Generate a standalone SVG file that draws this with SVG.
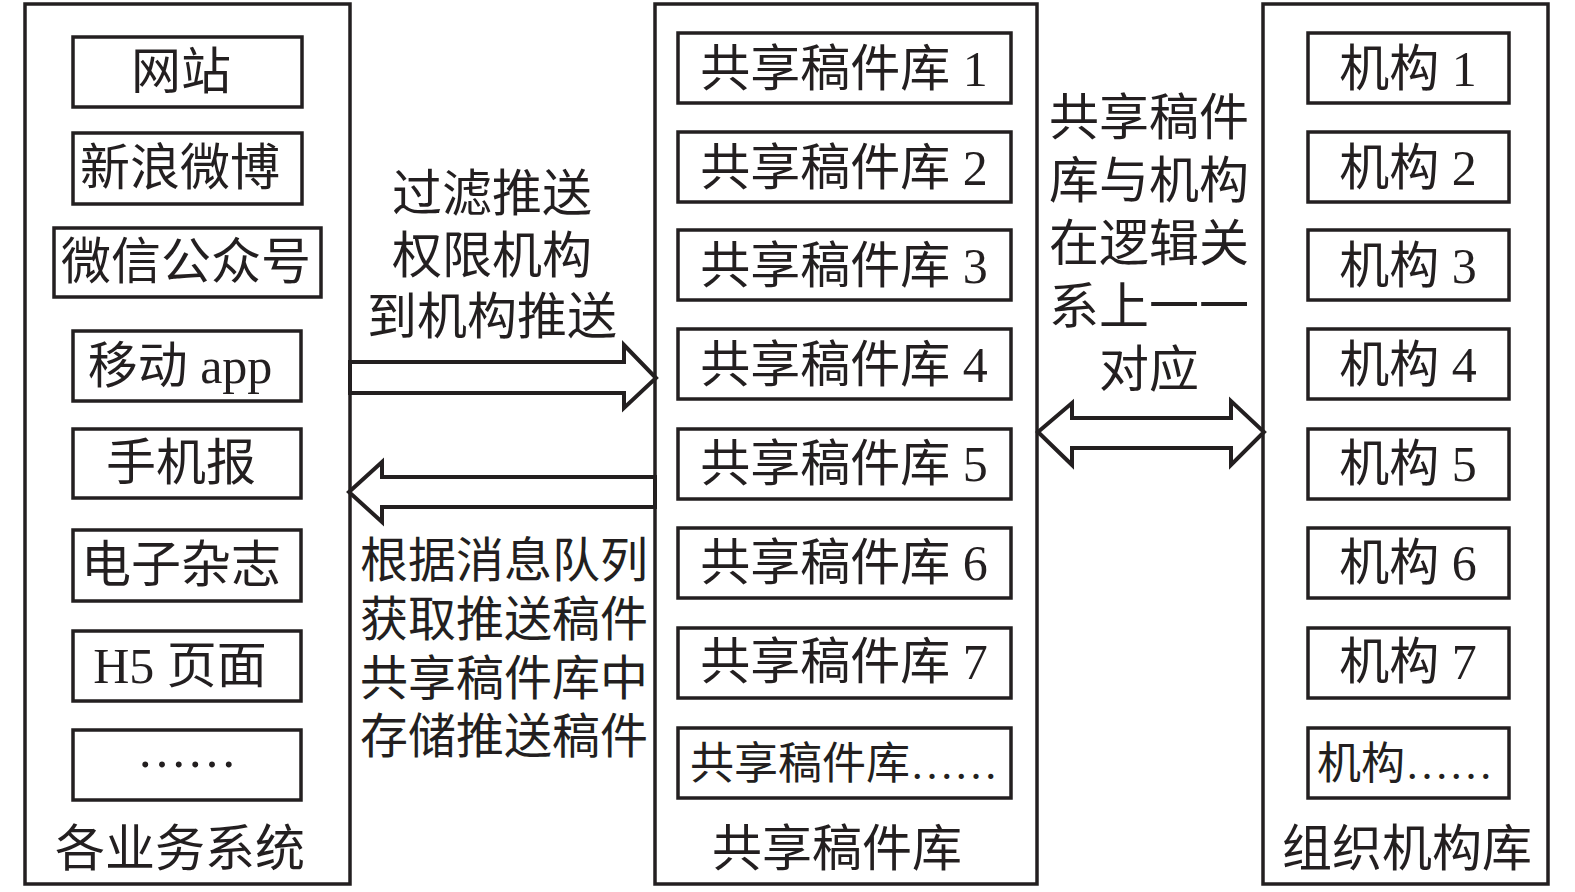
<svg xmlns="http://www.w3.org/2000/svg" width="1575" height="892" viewBox="0 0 1575 892">
<style>
.o{fill:none;stroke:#231f20;stroke-width:3.5}
.b{fill:none;stroke:#231f20;stroke-width:3.5}
.a{fill:#fff;stroke:#231f20;stroke-width:4;stroke-linejoin:miter}
text{font-family:"Liberation Serif","Noto Sans CJK SC",serif;fill:#231f20;text-anchor:middle;dominant-baseline:central}
.t{font-size:50px}
.s{font-size:44px}
.l{font-size:48px}
</style>
<rect width="1575" height="892" fill="#fff"/>
<g id="systems">
<rect class="o" x="25" y="4" width="325" height="880"/>
<text class="t" x="180" y="849">各业务系统</text>
</g>
<g id="sys-web"><rect class="b" x="73" y="37" width="229" height="70"/><text class="t" x="181" y="72">网站</text></g>
<g id="sys-weibo"><rect class="b" x="73" y="133" width="229" height="71"/><text class="t" x="180" y="168">新浪微博</text></g>
<g id="sys-wechat"><rect class="b" x="54" y="228" width="267" height="69"/><text class="t" x="186" y="262">微信公众号</text></g>
<g id="sys-app"><rect class="b" x="73" y="331" width="228" height="70"/><text class="t" x="180" y="366">移动 app</text></g>
<g id="sys-paper"><rect class="b" x="73" y="429" width="228" height="69"/><text class="t" x="181" y="463">手机报</text></g>
<g id="sys-mag"><rect class="b" x="73" y="530" width="228" height="71"/><text class="t" x="181" y="565">电子杂志</text></g>
<g id="sys-h5"><rect class="b" x="73" y="631" width="228" height="70"/><text class="t" x="180" y="666">H5 页面</text></g>
<g id="sys-more"><rect class="b" x="73" y="730" width="228" height="70"/><text class="t" x="187" y="750">……</text></g>

<g id="shared">
<rect class="o" x="655" y="4" width="382" height="880"/>
<text class="t" x="837" y="849">共享稿件库</text>
</g>
<g id="lib1"><rect class="b" x="678" y="33" width="333" height="70"/><text class="t" x="844" y="69">共享稿件库 1</text></g>
<g id="lib2"><rect class="b" x="678" y="132" width="333" height="70"/><text class="t" x="844" y="168">共享稿件库 2</text></g>
<g id="lib3"><rect class="b" x="678" y="230" width="333" height="70"/><text class="t" x="844" y="266">共享稿件库 3</text></g>
<g id="lib4"><rect class="b" x="678" y="329" width="333" height="70"/><text class="t" x="844" y="365">共享稿件库 4</text></g>
<g id="lib5"><rect class="b" x="678" y="429" width="333" height="70"/><text class="t" x="844" y="464">共享稿件库 5</text></g>
<g id="lib6"><rect class="b" x="678" y="528" width="333" height="70"/><text class="t" x="844" y="563">共享稿件库 6</text></g>
<g id="lib7"><rect class="b" x="678" y="628" width="333" height="70"/><text class="t" x="844" y="662">共享稿件库 7</text></g>
<g id="libmore"><rect class="b" x="678" y="728" width="333" height="70"/><text class="s" x="844" y="764">共享稿件库……</text></g>

<g id="orgs">
<rect class="o" x="1263" y="4" width="285" height="880"/>
<text class="t" x="1407" y="849">组织机构库</text>
</g>
<g id="org1"><rect class="b" x="1308" y="33" width="201" height="70"/><text class="t" x="1408" y="69">机构 1</text></g>
<g id="org2"><rect class="b" x="1308" y="132" width="201" height="70"/><text class="t" x="1408" y="168">机构 2</text></g>
<g id="org3"><rect class="b" x="1308" y="230" width="201" height="70"/><text class="t" x="1408" y="266">机构 3</text></g>
<g id="org4"><rect class="b" x="1308" y="329" width="201" height="70"/><text class="t" x="1408" y="365">机构 4</text></g>
<g id="org5"><rect class="b" x="1308" y="429" width="201" height="70"/><text class="t" x="1408" y="464">机构 5</text></g>
<g id="org6"><rect class="b" x="1308" y="528" width="201" height="70"/><text class="t" x="1408" y="563">机构 6</text></g>
<g id="org7"><rect class="b" x="1308" y="628" width="201" height="70"/><text class="t" x="1408" y="662">机构 7</text></g>
<g id="orgmore"><rect class="b" x="1308" y="728" width="201" height="70"/><text class="s" x="1405" y="764">机构……</text></g>

<g id="connectors">
<polygon class="a" points="350,362 624,362 624,345 656,378 624,408 624,393 350,393"/>
<polygon class="a" points="655,477 382,477 382,462 349,492 382,522 382,507 655,507"/>
<polygon class="a" points="1038,432 1072,403 1072,418 1231,418 1231,401 1264,432 1231,465 1231,448 1072,448 1072,465"/>
<text class="t" x="492" y="194">过滤推送</text>
<text class="t" x="492" y="256">权限机构</text>
<text class="t" x="492" y="317">到机构推送</text>
<text class="l" x="504" y="560">根据消息队列</text>
<text class="l" x="504" y="619">获取推送稿件</text>
<text class="l" x="504" y="678">共享稿件库中</text>
<text class="l" x="504" y="736">存储推送稿件</text>
<text class="t" x="1149" y="118">共享稿件</text>
<text class="t" x="1149" y="181">库与机构</text>
<text class="t" x="1149" y="244">在逻辑关</text>
<text class="t" x="1149" y="307">系上一一</text>
<text class="t" x="1149" y="370">对应</text>
</g>
</svg>
